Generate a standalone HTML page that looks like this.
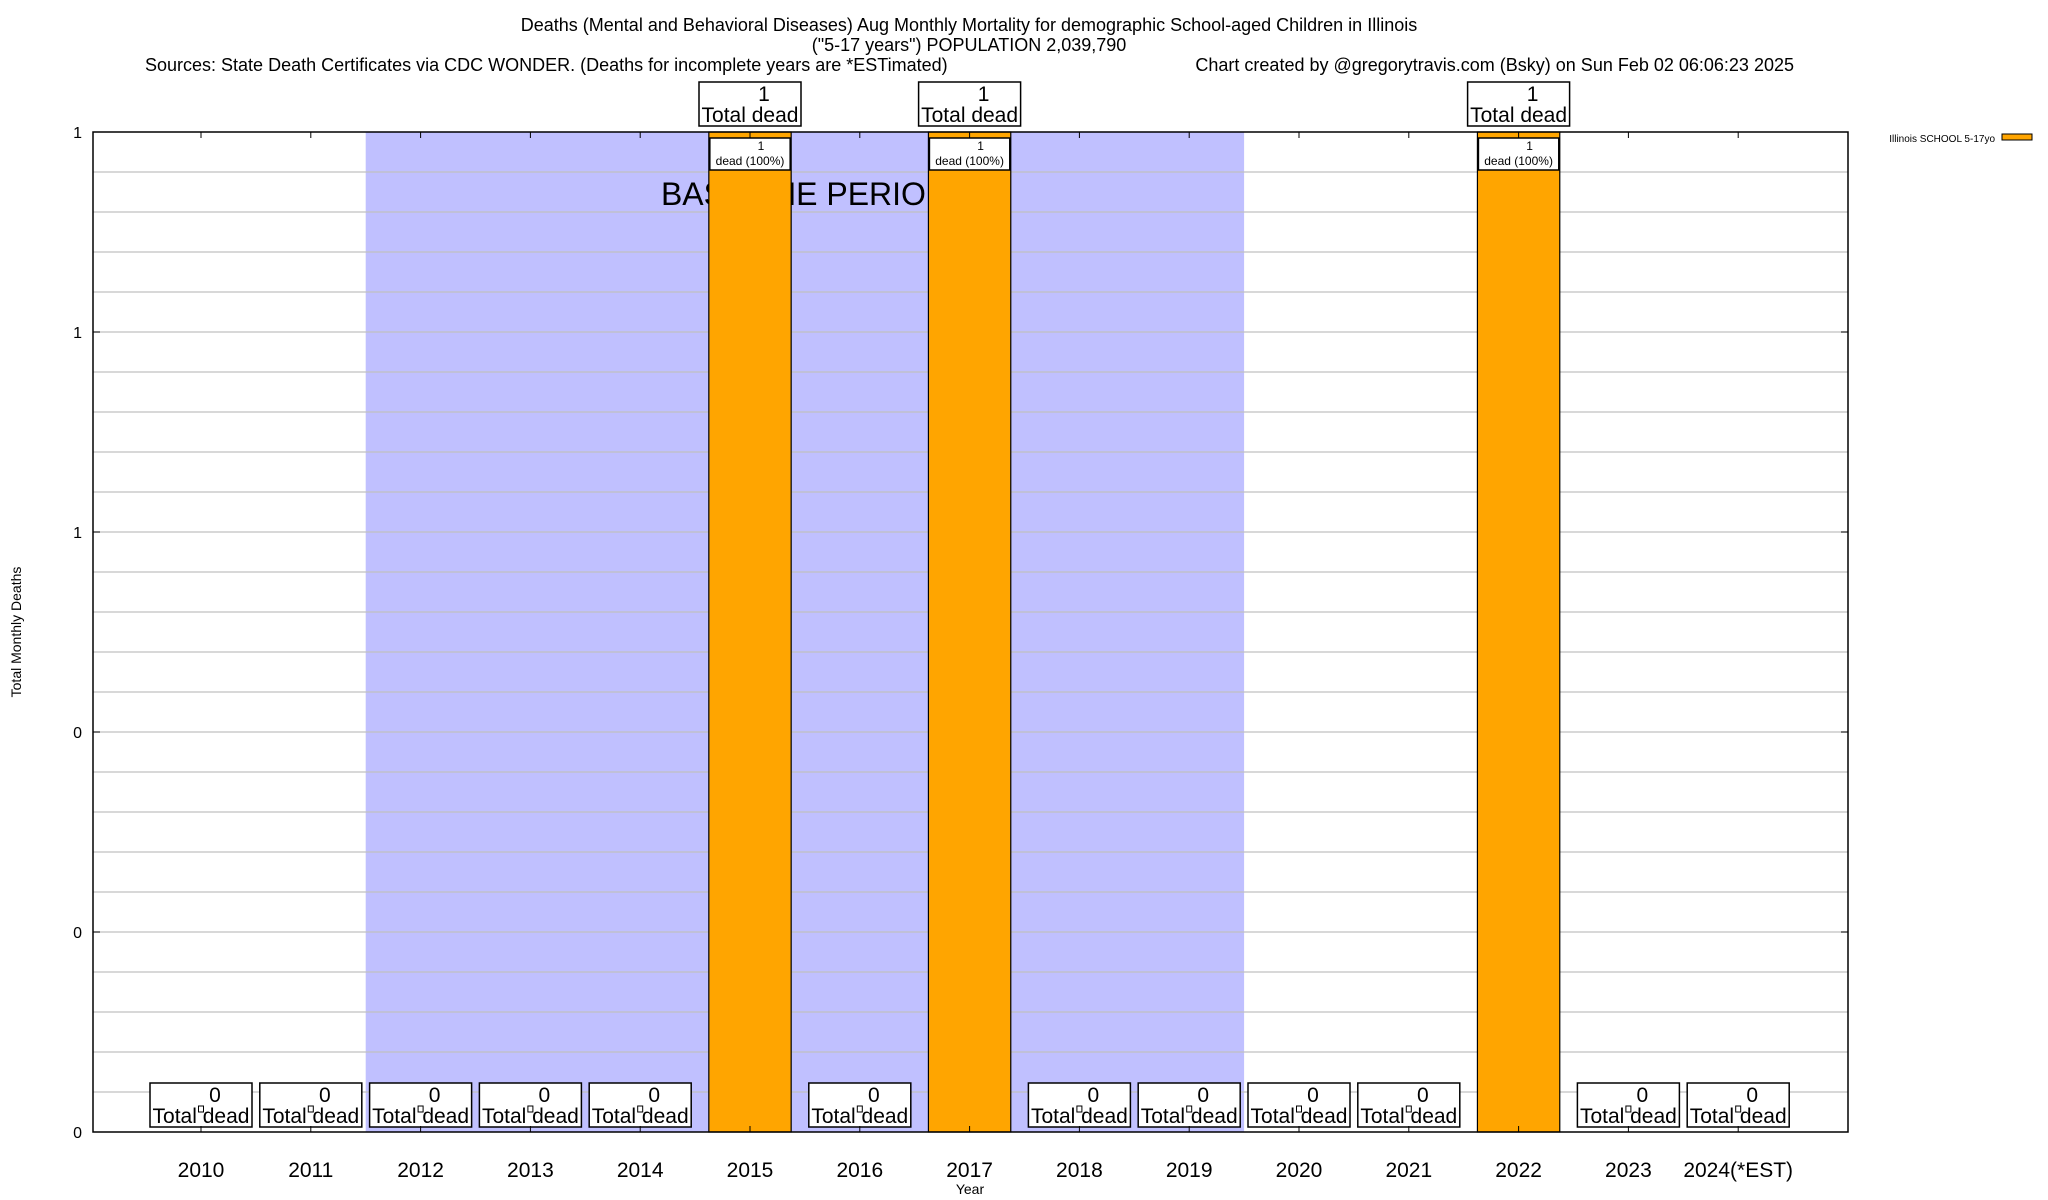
<!DOCTYPE html>
<html><head><meta charset="utf-8"><style>
html,body{margin:0;padding:0;background:#fff;}
svg{display:block;font-family:"Liberation Sans",Arial,sans-serif;}
</style></head><body>
<svg id="chart" width="2048" height="1200" viewBox="0 0 2048 1200">
<rect width="2048" height="1200" fill="#fff"/>
<g font-size="18" text-anchor="middle" fill="#000">
<text x="969" y="31">Deaths (Mental and Behavioral Diseases) Aug Monthly Mortality for demographic School-aged Children in Illinois</text>
<text x="969" y="51">("5-17 years") POPULATION 2,039,790</text>
<text x="145" y="71" text-anchor="start">Sources: State Death Certificates via CDC WONDER. (Deaths for incomplete years are *ESTimated)</text>
<text x="1794" y="71" text-anchor="end">Chart created by @gregorytravis.com (Bsky) on Sun Feb 02 06:06:23 2025</text>
</g>
<g id="plot"></g>
<text x="21" y="632" font-size="14" text-anchor="middle" transform="rotate(-90 21 632)">Total Monthly Deaths</text>
<text x="970" y="1194" font-size="14" text-anchor="middle">Year</text>
<g>
<text x="1995" y="142" font-size="10" text-anchor="end">Illinois SCHOOL 5-17yo</text>
<rect x="2002" y="134" width="30" height="6" fill="#ffa500" stroke="#000" stroke-width="1"/>
</g>
</svg>
<script>
const years = ["2010","2011","2012","2013","2014","2015","2016","2017","2018","2019","2020","2021","2022","2023","2024(*EST)"];
const deaths = [0,0,0,0,0,1,0,1,0,0,0,0,1,0,0];
const yTickValues = [0,0.2,0.4,0.6,0.8,1.0];
const yTickLabels = ["0","0","0","1","1","1"];
const baselineStart = 2;
const baselineEnd = 9;

const NS = "http://www.w3.org/2000/svg";
const L = 93, R = 1848, T = 132, B = 1132;
const yMax = 1.0;
const firstX = 201, step = 109.8;
function xPos(i){ return firstX + i*step; }
function yPos(v){ return B - (v/yMax)*(B-T); }
const plot = document.getElementById('plot');
function mk(tag, attrs, parent){
  const e = document.createElementNS(NS, tag);
  for (const k in attrs) e.setAttribute(k, attrs[k]);
  (parent||plot).appendChild(e);
  return e;
}
// background & baseline shade
const bg = mk('rect',{x:L,y:T,width:R-L,height:B-T,fill:'#fff'});


const sx0 = xPos(baselineStart-0.5), sx1 = xPos(baselineEnd+0.5);
const shade = mk('rect',{x:sx0,y:T,width:sx1-sx0,height:B-T,fill:'#c0c0ff'});


// grid
for (let k=1;k<25;k++){
  const v = k*0.04;
  const y = yPos(v);
  const g = mk('line',{x1:L,x2:R,y1:y,y2:y,stroke:'#c0c0c0','stroke-width':1.3});
  
  
}
// baseline label
const bl = mk('text',{x:805,y:205,'font-size':32,'text-anchor':'middle'});
bl.textContent = 'BASELINE PERIOD';


// bars
const bw = step*0.75;
deaths.forEach((d,i)=>{
  const cx = xPos(i);
  if (d > 0){
    const yt = yPos(d);
    const bar = mk('rect',{x:cx-bw/2,y:yt,width:bw,height:B-yt,fill:'#ffa500',stroke:'#000','stroke-width':1.2});
    
    
    const ib = mk('rect',{x:cx-bw/2+1,y:yt+6,width:bw-2,height:32,fill:'#fff',stroke:'#000','stroke-width':1.5});
    
    
    const t1 = mk('text',{x:cx+11,y:yt+18,'font-size':12,'text-anchor':'middle'});
    t1.textContent = String(d);
    
    
    const t2 = mk('text',{x:cx,y:yt+33,'font-size':12,'text-anchor':'middle'});
    t2.textContent = 'dead (100%)';
    
    
  }
  // total box
  const by = d > 0 ? yPos(d) - 50 : B - 49;
  const box = mk('rect',{x:cx-51,y:by,width:102,height:44,fill:'#fff',stroke:'#000','stroke-width':1.5});
  
  
  const v = mk('text',{x:cx+14,y:by+19,'font-size':21,'text-anchor':'middle'});
  v.textContent = String(d);
  
  
  const tl = mk('text',{x:cx,y:by+40,'font-size':21,'text-anchor':'middle'});
  tl.textContent = 'Total dead';
  
  
  // ticks
  mk('line',{x1:cx,x2:cx,y1:T,y2:T+6,stroke:'#000','stroke-width':1});
  mk('line',{x1:cx,x2:cx,y1:B,y2:B-6,stroke:'#000','stroke-width':1});
  if (d === 0){
    const sq = mk('rect',{x:cx-2.5,y:1106,width:5,height:6,fill:'#fff',stroke:'#000','stroke-width':1});
    
    
  }
  const xl = mk('text',{x:cx,y:1177,'font-size':21,'text-anchor':'middle'});
  xl.textContent = years[i];
  
  
});
// y ticks
yTickValues.forEach((v,i)=>{
  const y = yPos(v);
  mk('line',{x1:L,x2:L+7,y1:y,y2:y,stroke:'#000','stroke-width':1});
  mk('line',{x1:R,x2:R-7,y1:y,y2:y,stroke:'#000','stroke-width':1});
  const t = mk('text',{x:82,y:y+6,'font-size':16,'text-anchor':'end'});
  t.textContent = yTickLabels[i];
  
  
});
// frame
const fr = mk('rect',{x:L,y:T,width:R-L,height:B-T,fill:'none',stroke:'#000','stroke-width':1.5});


</script>
</body></html>
